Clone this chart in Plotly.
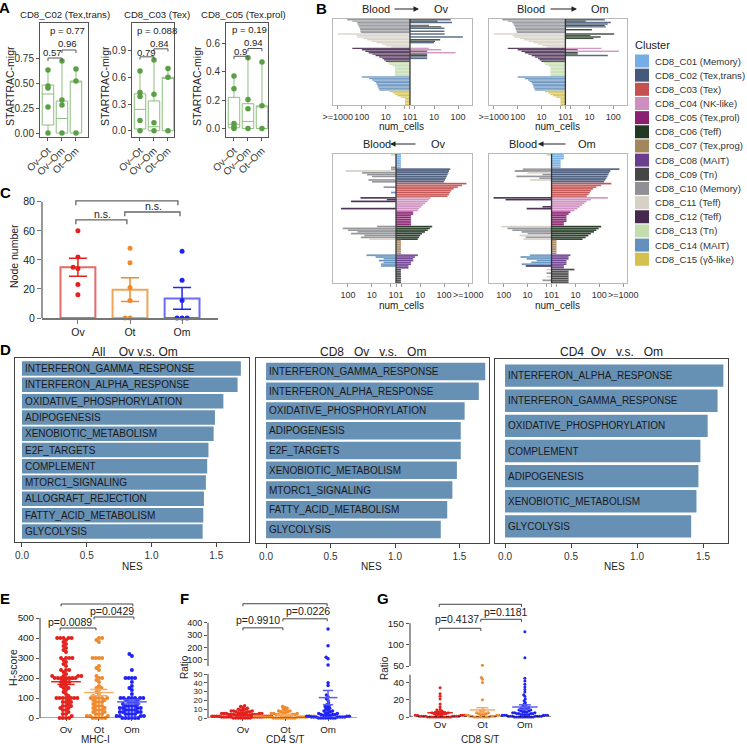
import numpy as np
import plotly.graph_objects as go

W, H = 747, 744
FONT = "Liberation Sans, Arial, Helvetica, sans-serif"

# ======================= DATA =======================
# ---- Panel A : STARTRAC-migr box plots ----
A_titles = ["CD8_C02 (Tex,trans)", "CD8_C03 (Tex)", "CD8_C05 (Tex.prol)"]
A_cats = ["Ov–Ot", "Ov–Om", "Ot–Om"]
A_points = [
    [[0.63, 0.47, 0.45, 0.26, 0.0], [0.72, 0.33, 0.28, 0.0], [0.64, 0.52, 0.0]],
    [[0.67, 0.43, 0.385, 0.115, 0.0], [0.795, 0.41, 0.09, 0.0], [0.70, 0.60, 0.0]],
    [[0.37, 0.28, 0.035, 0.015, 0.0], [0.50, 0.205, 0.14, 0.0], [0.47, 0.16, 0.0]],
]
A_q1 = [[0.08, 0.0, 0.0], [0.02, 0.0, 0.0], [0.005, 0.0, 0.0]]
A_med = [[0.39, 0.145, 0.52], [0.24, 0.045, 0.60], [0.03, 0.05, 0.16]]
A_q3 = [[0.48, 0.32, 0.52], [0.415, 0.335, 0.60], [0.22, 0.175, 0.16]]
A_lo = [[0.0, 0.0, 0.0], [0.0, 0.0, 0.0], [0.0, 0.0, 0.0]]
A_hi = [[0.63, 0.72, 0.64], [0.67, 0.795, 0.70], [0.37, 0.50, 0.47]]
A_yticks = [[0, 0.25, 0.5, 0.75], [0, 0.3, 0.6, 0.9], [0, 0.2, 0.4, 0.6]]
A_yticktext = [["0.00", "0.25", "0.50", "0.75"], ["0.0", "0.3", "0.6", "0.9"], ["0.0", "0.2", "0.4", "0.6"]]
A_pair_labels = [["0.57", "0.96"], ["0.79", "0.84"], ["0.9", "0.94"]]
A_p_overall = ["p = 0.77", "p = 0.088", "p = 0.19"]

# ---- Panel B : clone sharing (counts) ----
CLUSTERS = ["C01", "C02", "C03", "C04", "C05", "C06", "C07", "C08",
            "C09", "C10", "C11", "C12", "C13", "C14", "C15"]
CLUSTER_NAMES = ["CD8_C01 (Memory)", "CD8_C02 (Tex,trans)", "CD8_C03 (Tex)",
                 "CD8_C04 (NK-like)", "CD8_C05 (Tex,prol)", "CD8_C06 (Teff)",
                 "CD8_C07 (Tex,prog)", "CD8_C08 (MAIT)", "CD8_C09 (Tn)",
                 "CD8_C10 (Memory)", "CD8_C11 (Teff)", "CD8_C12 (Teff)",
                 "CD8_C13 (Tn)", "CD8_C14 (MAIT)", "CD8_C15 (γδ-like)"]
CLUSTER_COLORS = ["#74aee4", "#47597a", "#c4514f", "#cf8ec0", "#8b1f72",
                  "#233823", "#a4865c", "#6b3d8e", "#464646", "#8e9096",
                  "#d7d1c5", "#46294f", "#c4dcae", "#6391bd", "#d5c04e"]

# top-left: Blood -> Ov (rows grouped by blood cluster)
B_TL_groups = ["C10", "C11", "C12", "C13", "C14", "C15"]
B_TL_blood_n = [
    [410, 250, 160, 150, 140, 130, 123, 118, 115, 110],
    [1000, 170, 150, 90, 60, 40, 25, 15, 10, 6],
    [250, 100, 72, 52, 37, 27, 19, 14, 12, 10],
    [8, 7, 5, 4, 4, 4, 4, 4, 4, 4],
    [100, 50, 37, 31, 26, 24, 22, 22, 20, 19],
    [7, 5, 4, 3, 2, 1, 1, 1, 1, 1]]
B_TL_tum_cl = [
    ["C02", "C06", "C02", "", "C02", "C06", "C02", "", "C02", ""],
    ["C02", "", "C02", "", "C06", "C06", "C02", "", "", ""],
    ["C04", "C04", "C09", "C04", "C06", "C06", "C02", "C02", "", ""],
    ["", "", "", "", "", "", "", "", "", ""],
    ["", "", "", "", "", "", "", "", "", ""],
    ["", "", "", "", "", "", "", "", "", ""]]
B_TL_tum_n = [
    [50, 14, 56, 0, 6, 20, 27, 0, 27, 0],
    [28, 0, 160, 0, 18, 11, 10, 0, 0, 0],
    [6, 20, 5, 80, 5, 5, 5, 5, 0, 0],
    [0, 0, 0, 0, 0, 0, 0, 0, 0, 0],
    [0, 0, 0, 0, 0, 0, 0, 0, 0, 0],
    [0, 0, 0, 0, 0, 0, 0, 0, 0, 0]]

# top-right: Blood -> Om
B_TR_groups = ["C10", "C11", "C12", "C13", "C14", "C15"]
B_TR_blood_n = [
    [440, 260, 170, 150, 140, 130, 125, 118, 112, 108],
    [1000, 160, 140, 80, 55, 35, 22, 14, 9, 6],
    [260, 100, 70, 50, 36, 26, 19, 14, 12, 10],
    [8, 7, 5, 4, 4, 4, 4, 4, 4, 4],
    [100, 50, 37, 31, 26, 24, 22, 22, 20, 19],
    [7, 5, 4, 3, 2, 1, 1, 1, 1, 1]]
B_TR_tum_cl = [
    ["C02", "C06", "C02", "C02", "C06", "C02", "", "C06", "", ""],
    ["C06", "C06", "C06", "C06", "", "", "", "", "", ""],
    ["C04", "C09", "C04", "C06", "C06", "C02", "", "", "", ""],
    ["", "", "", "", "", "", "", "", "", ""],
    ["", "", "", "", "", "", "", "", "", ""],
    ["", "", "", "", "", "", "", "", "", ""]]
B_TR_tum_n = [
    [45, 7, 80, 60, 45, 50, 0, 13, 0, 0],
    [110, 11, 30, 15, 0, 0, 0, 0, 0, 0],
    [32, 3, 175, 3, 3, 60, 0, 0, 0, 0],
    [0, 0, 0, 0, 0, 0, 0, 0, 0, 0],
    [0, 0, 0, 0, 0, 0, 0, 0, 0, 0],
    [0, 0, 0, 0, 0, 0, 0, 0, 0, 0]]

# bottom-left: Blood <- Ov (rows grouped by tumour cluster)
B_BL_groups = ["C01", "C02", "C03", "C04", "C05", "C06", "C07", "C08", "C09"]
B_BL_tum_n = [
    [1, 1, 1, 1, 1, 1, 1, 1],
    [180, 160, 150, 140, 130, 120, 110, 100],
    [850, 560, 370, 250, 200, 175, 160, 140],
    [28, 24, 20, 16, 13, 11, 9, 8],
    [5, 5, 4, 4, 4, 4, 4, 4],
    [32, 26, 21, 16, 12, 10, 9, 8],
    [1, 1, 1, 1, 1, 1, 1, 1],
    [8, 6, 5, 5, 4, 4, 3, 3],
    [1, 1, 1, 1, 1, 1, 1, 1]]
B_BL_blood_cl = [
    ["C13", "", "", "", "", "", "", "C10"],
    ["C10", "C11", "C10", "C10", "C10", "", "C10", "C10"],
    ["", "", "C10", "", "", "C14", "", ""],
    ["C12", "C12", "C12", "", "", "", "C12", ""],
    ["", "", "", "", "", "", "", ""],
    ["C10", "C10", "C10", "C10", "C10", "C10", "C10", "C11"],
    ["", "", "", "", "", "", "", ""],
    ["C14", "C14", "C14", "C14", "C14", "C14", "C14", ""],
    ["", "", "", "", "", "", "", ""]]
B_BL_blood_n = [
    [1, 0, 0, 0, 0, 0, 0, 1],
    [1, 125, 26, 16, 10, 0, 14, 10],
    [0, 0, 3, 0, 0, 1, 0, 0],
    [30, 2, 75, 0, 0, 0, 195, 0],
    [0, 0, 0, 0, 0, 0, 0, 0],
    [6, 165, 100, 40, 75, 21, 29, 13],
    [0, 0, 0, 0, 0, 0, 0, 0],
    [17, 7, 3, 5, 3, 4, 4, 0],
    [0, 0, 0, 0, 0, 0, 0, 0]]

# bottom-right: Blood <- Om
B_BR_groups = ["C01", "C02", "C03", "C04", "C05", "C06", "C07", "C08", "C09"]
B_BR_tum_n = [
    [3, 3, 3, 2, 2, 2, 2, 2],
    [700, 290, 260, 240, 220, 200, 180, 160],
    [320, 120, 75, 55, 45, 40, 36, 30],
    [230, 45, 30, 24, 19, 15, 12, 9],
    [6, 5, 4, 4, 4, 4, 3, 3],
    [120, 95, 75, 60, 45, 35, 27, 20],
    [1, 1, 1, 1, 1, 1, 1, 1],
    [6, 5, 5, 4, 4, 4, 3, 3],
    [9, 5, 5, 5, 5, 5, 5, 5]]
B_BR_blood_cl = [
    ["C13", "", "", "", "", "", "", ""],
    ["C10", "C10", "C11", "C10", "C10", "C10", "C11", ""],
    ["", "", "", "", "", "", "", ""],
    ["C12", "C12", "", "", "", "C12", "C12", ""],
    ["", "", "", "", "", "", "", ""],
    ["C11", "C10", "C10", "C10", "C10", "C11", "C10", "C11"],
    ["", "", "", "", "", "", "", ""],
    ["C14", "C14", "C14", "C14", "C14", "C14", "C12", ""],
    ["C11", "", "C10", "", "C11", "", "C10", ""]]
B_BR_blood_n = [
    [1, 0, 0, 0, 0, 0, 0, 0],
    [16, 35, 10, 2, 30, 3, 8, 0],
    [0, 0, 0, 0, 0, 0, 0, 0],
    [270, 85, 0, 0, 0, 2, 11, 0],
    [0, 0, 0, 0, 0, 0, 0, 0],
    [125, 70, 44, 18, 10, 22, 12, 15],
    [0, 0, 0, 0, 0, 0, 0, 0],
    [8, 20, 11, 4, 7, 18, 12, 0],
    [1, 0, 1, 0, 1, 0, 2, 0]]

# tick positions (counts) and labels; the three central ticks (1 | 0 | 1) share one label "101"
B_top_tick_counts = [1000, 100, 10, 1, 0, 1, 10, 100]
B_top_tick_side = [-1, -1, -1, -1, 0, 1, 1, 1]
B_top_tick_text = [">=1000", "100", "10", "", "101", "", "10", "100"]
B_bot_tick_counts = [100, 10, 1, 0, 1, 10, 100, 1000]
B_bot_tick_side = [-1, -1, -1, 0, 1, 1, 1, 1]
B_bot_tick_text = ["100", "10", "", "101", "", "10", "100", ">=1000"]

# ---- Panel C : node number ----
C_groups = ["Ov", "Ot", "Om"]
C_points = [[60, 42, 35, 34, 23, 16], [48, 38, 21, 12, 0, 0], [46, 26, 12, 0, 0, 0]]
C_mean = [35, 19.5, 13.5]
C_sem = [6.2, 8.2, 7.5]

# ---- Panel D : GSEA NES ----
D_titles = ["All\u00a0\u00a0\u00a0\u00a0Ov v.s. Om",
            "CD8\u00a0\u00a0\u00a0Ov\u00a0\u00a0\u00a0v.s.\u00a0\u00a0\u00a0Om",
            "CD4\u00a0\u00a0Ov\u00a0\u00a0\u00a0v.s.\u00a0\u00a0\u00a0Om"]
D1_terms = ["INTERFERON_GAMMA_RESPONSE", "INTERFERON_ALPHA_RESPONSE", "OXIDATIVE_PHOSPHORYLATION",
            "ADIPOGENESIS", "XENOBIOTIC_METABOLISM", "E2F_TARGETS", "COMPLEMENT",
            "MTORC1_SIGNALING", "ALLOGRAFT_REJECTION", "FATTY_ACID_METABOLISM", "GLYCOLYSIS"]
D1_nes = [1.69, 1.665, 1.555, 1.49, 1.48, 1.44, 1.43, 1.42, 1.405, 1.40, 1.395]
D2_terms = ["INTERFERON_GAMMA_RESPONSE", "INTERFERON_ALPHA_RESPONSE", "OXIDATIVE_PHOSPHORYLATION",
            "ADIPOGENESIS", "E2F_TARGETS", "XENOBIOTIC_METABOLISM", "MTORC1_SIGNALING",
            "FATTY_ACID_METABOLISM", "GLYCOLYSIS"]
D2_nes = [1.70, 1.65, 1.54, 1.51, 1.51, 1.48, 1.445, 1.405, 1.355]
D3_terms = ["INTERFERON_ALPHA_RESPONSE", "INTERFERON_GAMMA_RESPONSE", "OXIDATIVE_PHOSPHORYLATION",
            "COMPLEMENT", "ADIPOGENESIS", "XENOBIOTIC_METABOLISM", "GLYCOLYSIS"]
D3_nes = [1.654, 1.61, 1.535, 1.48, 1.465, 1.45, 1.41]

# ---- Panel E : MHC-I H-score ----
EFG_groups = ["Ov", "Ot", "Om"]
E_Ov = [400, 400, 400, 400, 400, 390, 380, 370, 360, 350, 340, 330, 300, 300, 300, 300,
        290, 280, 270, 260, 240, 240, 240, 230, 220, 210, 210, 210, 210, 200, 200, 200,
        200, 200, 200, 200, 190, 180, 180, 180, 170, 160, 160, 150, 150, 140, 130, 120,
        110, 100, 100, 100, 100, 100, 100, 100, 90, 80, 80, 80, 70, 60, 60, 60, 50, 50,
        40, 40, 30, 20, 20, 10, 0, 0, 0, 0]
E_Ot = [400, 400, 390, 380, 300, 300, 300, 300, 260, 250, 240, 210, 200, 200, 190, 180,
        160, 150, 150, 140, 130, 120, 110, 100, 100, 100, 100, 100, 90, 90, 80, 80, 80,
        70, 60, 60, 60, 50, 50, 40, 40, 40, 30, 30, 20, 20, 20, 10, 10, 10, 0, 0, 0, 0, 0]
E_Om = [320, 310, 240, 200, 200, 200, 200, 180, 160, 150, 140, 120, 100, 100, 100, 100,
        100, 100, 100, 90, 90, 80, 80, 80, 70, 70, 60, 60, 60, 60, 50, 50, 50, 50, 40, 40,
        40, 40, 30, 30, 30, 30, 20, 20, 20, 20, 10, 10, 10, 10, 0, 0, 0, 0, 0, 0]

# ---- Panel F : CD4 S/T ratio ----
F_Ov = [14, 13, 12, 11, 10, 10, 9, 9, 8, 8, 8, 7, 7, 7, 6, 6, 6, 6, 5, 5, 5, 5, 5, 4, 4, 4,
        4, 4, 4, 3, 3, 3, 3, 3, 3, 3, 2, 2, 2, 2, 2, 2, 2, 2, 1, 1, 1, 1, 1, 1, 1, 1, 1, 1,
        0, 0, 0, 0, 0, 0, 0, 0]
F_Ot = [13, 12, 11, 10, 9, 8, 8, 7, 7, 6, 6, 5, 5, 5, 4, 4, 4, 4, 3, 3, 3, 3, 3, 2, 2, 2,
        2, 2, 2, 2, 1, 1, 1, 1, 1, 1, 1, 1, 1, 0, 0, 0, 0, 0, 0, 0, 0, 0, 0]
F_Om = [349, 213, 121, 109, 58, 40, 37, 26, 24, 22, 20, 17, 15, 14, 13, 12, 11, 10, 9, 8,
        8, 7, 6, 6, 5, 5, 4, 4, 4, 3, 3, 3, 3, 2, 2, 2, 2, 1, 1, 1, 1, 1, 1, 1, 0, 0, 0, 0,
        0, 0, 0, 0]

# ---- Panel G : CD8 S/T ratio ----
G_Ov = [34, 27, 24, 21, 15, 12, 9, 8, 7, 6, 6, 5, 5, 4, 4, 4, 3, 3, 3, 3, 2, 2, 2, 2, 2,
        1, 1, 1, 1, 1, 1, 1, 1, 0, 0, 0, 0, 0, 0, 0, 0, 0, 0, 0, 0]
G_Ot = [52, 46, 44, 40, 20, 8, 7, 6, 5, 5, 4, 4, 3, 3, 3, 2, 2, 2, 2, 1, 1, 1, 1, 1, 0, 0,
        0, 0, 0, 0, 0, 0]
G_Om = [130, 69, 45, 42, 38, 35, 32, 29, 26, 24, 21, 19, 17, 15, 14, 13, 12, 11, 10, 10,
        9, 9, 8, 8, 7, 7, 6, 6, 6, 5, 5, 5, 4, 4, 4, 4, 3, 3, 3, 3, 3, 2, 2, 2, 2, 2, 2, 1,
        1, 1, 1, 1, 1, 1, 0, 0, 0, 0, 0, 0, 0, 0, 0, 0]

# ======================= STYLE / HELPERS =======================
COL_CL = dict(zip(CLUSTERS, CLUSTER_COLORS))
A_BOX = "#8cc07e"
A_PT = "#5a9e45"
DOT_COLS = ["#e3211c", "#ee8a2c", "#1f24f5"]
MEAN_COLS = ["#e3211c", "#f2ad6a", "#5a5cf2"]
C_LINE = ["#e8696a", "#f0a458", "#6b6cf6"]
D_COL = "#6790b5"
AX = "#555555"


def xr(n):
    return "x" if n == 1 else f"x{n}"


def yr(n):
    return "y" if n == 1 else f"y{n}"


layout = dict(width=W, height=H, autosize=False, margin=dict(l=0, r=0, t=0, b=0, pad=0),
              paper_bgcolor="white", plot_bgcolor="white", showlegend=False,
              barmode="overlay", font=dict(family=FONT, size=10, color="#222"))


def set_axes(n, xpx, ypx, xo, yo):
    xa = dict(domain=[xpx[0] / W, xpx[1] / W], anchor=yr(n), showgrid=False, zeroline=False,
              automargin=False)
    ya = dict(domain=[1 - ypx[1] / H, 1 - ypx[0] / H], anchor=xr(n), showgrid=False,
              zeroline=False, automargin=False)
    xa.update(xo)
    ya.update(yo)
    layout["xaxis" if n == 1 else f"xaxis{n}"] = xa
    layout["yaxis" if n == 1 else f"yaxis{n}"] = ya


shapes, anns = [], []


def text_px(t, x, y, size=10, xanchor="center", yanchor="middle", color="#222", angle=0):
    anns.append(dict(text=t, x=x / W, y=1 - y / H, xref="paper", yref="paper", showarrow=False,
                     xanchor=xanchor, yanchor=yanchor, textangle=angle,
                     font=dict(size=size, color=color)))


def text_data(t, x, y, n, size=10, color="#222", xanchor="center"):
    anns.append(dict(text=t, x=x, y=y, xref=xr(n), yref=yr(n), showarrow=False,
                     xanchor=xanchor, yanchor="middle", font=dict(size=size, color=color)))


def bracket(x0, x1, y, tick, n, color="#444", width=1):
    shapes.append(dict(type="path",
                       path=f"M {x0},{y - tick} L {x0},{y} L {x1},{y} L {x1},{y - tick}",
                       xref=xr(n), yref=yr(n), line=dict(color=color, width=width)))


def vline_dom(n, y0, y1, color=AX, width=1.2):
    shapes.append(dict(type="line", xref=f"{xr(n)} domain", yref=yr(n), x0=0, x1=0,
                       y0=y0, y1=y1, line=dict(color=color, width=width)))


def hline_dom(n, x0f, x1f, y, color=AX, width=1.2, dash=None):
    ln = dict(color=color, width=width)
    if dash:
        ln["dash"] = dash
    shapes.append(dict(type="line", xref=f"{xr(n)} domain", yref=yr(n), x0=x0f, x1=x1f,
                       y0=y, y1=y, line=ln))


def swarm_offsets(ypix, d):
    ypix = np.asarray(ypix, float)
    order = np.argsort(ypix, kind="stable")
    px_l, py_l = [], []
    offs = np.zeros(len(ypix))
    for i in order:
        y = ypix[i]
        cands = [0.0]
        for a, b in zip(px_l, py_l):
            dyy = abs(b - y)
            if dyy < d:
                h = np.sqrt(d * d - dyy * dyy)
                cands.extend([a + h, a - h])
        cands.sort(key=lambda c: (round(abs(c), 6), c))
        for c in cands:
            if all((c - a) ** 2 + (y - b) ** 2 >= d * d - 1e-6 for a, b in zip(px_l, py_l)):
                offs[i] = c
                break
        px_l.append(offs[i])
        py_l.append(y)
    return offs


fig = go.Figure()

# ======================= PANEL A =======================
A_xdom = [(40, 88), (132, 174), (226, 268)]
A_xrange = [[-0.57, 2.86], [-0.57, 2.43], [-0.57, 2.43]]
A_yrange = [[-0.04, 1.10], [-0.07, 1.21], [-0.06, 0.745]]
A_br_y = [[0.75, 0.83], [0.83, 0.92], [0.51, 0.565]]
A_lab_pos = [[(0.29, 0.80), (1.43, 0.895)], [(0.5, 0.88), (1.36, 0.985)], [(0.43, 0.545), (1.39, 0.605)]]
A_p_pos = [(1.36, 1.025), (1.21, 1.13), (1.14, 0.698)]
A_title_x = [65, 157, 243]
A_ytitle_x = [10, 105, 197]
A_tick = [0.03, 0.03, 0.02]
for k in range(3):
    n = k + 1
    set_axes(n, A_xdom[k], (23, 137),
             dict(range=A_xrange[k], tickvals=[0, 1, 2], ticktext=A_cats, tickangle=-45,
                  ticks="outside", ticklen=3, tickcolor=AX, showline=True, mirror=True,
                  linecolor=AX, linewidth=1, tickfont=dict(size=10, color="#333")),
             dict(range=A_yrange[k], tickvals=A_yticks[k], ticktext=A_yticktext[k],
                  ticks="outside", ticklen=3, tickcolor=AX, showline=True, mirror=True,
                  linecolor=AX, linewidth=1, tickfont=dict(size=10, color="#333")))
    fig.add_trace(go.Box(x=[0, 1, 2], q1=A_q1[k], median=A_med[k], q3=A_q3[k],
                         lowerfence=A_lo[k], upperfence=A_hi[k], width=0.82, whiskerwidth=0,
                         line=dict(color=A_BOX, width=1), fillcolor="rgba(0,0,0,0)",
                         boxpoints=False, xaxis=xr(n), yaxis=yr(n), hoverinfo="skip"))
    xs, ys = [], []
    for ci, pts in enumerate(A_points[k]):
        xs += [ci] * len(pts)
        ys += pts
    fig.add_trace(go.Scatter(x=xs, y=ys, mode="markers", cliponaxis=False,
                             marker=dict(color=A_PT, size=5.5), xaxis=xr(n), yaxis=yr(n),
                             hoverinfo="skip"))
    bracket(0, 1, A_br_y[k][0], A_tick[k], n, color="#555")
    bracket(1, 2, A_br_y[k][1], A_tick[k], n, color="#555")
    for (lx, ly), lab in zip(A_lab_pos[k], A_pair_labels[k]):
        text_data(lab, lx, ly, n, size=9.6)
    text_data(A_p_overall[k], A_p_pos[k][0], A_p_pos[k][1], n, size=9.6)
    text_px(A_titles[k], A_title_x[k], 15, size=9.6)
    text_px("STARTRAC-migr", A_ytitle_x[k], 86, size=10.5, angle=-90)


# ======================= PANEL B =======================
def pl(c):
    return np.arcsinh(np.asarray(c, float) / 2.0) / np.log(10)


def flat_top(groups, blood_n, tum_cl, tum_n):
    bc, bn, tc, tn = [], [], [], []
    for g, ns, cls, tns in zip(groups, blood_n, tum_cl, tum_n):
        for a, b, c in zip(ns, cls, tns):
            bc.append(g); bn.append(a); tc.append(b); tn.append(c)
    return bc, bn, tc, tn


def flat_bot(groups, tum_n, blood_cl, blood_n):
    bc, bn, tc, tn = [], [], [], []
    for g, tns, cls, bns in zip(groups, tum_n, blood_cl, blood_n):
        for a, b, c in zip(tns, cls, bns):
            tc.append(g); tn.append(a); bc.append(b); bn.append(c)
    return bc, bn, tc, tn


B_panels = [
    (4, (333, 472), (19, 105), flat_top(B_TL_groups, B_TL_blood_n, B_TL_tum_cl, B_TL_tum_n), "top"),
    (5, (489, 627), (19, 105), flat_top(B_TR_groups, B_TR_blood_n, B_TR_tum_cl, B_TR_tum_n), "top"),
    (6, (333, 472), (154, 283), flat_bot(B_BL_groups, B_BL_tum_n, B_BL_blood_cl, B_BL_blood_n), "bot"),
    (7, (489, 627), (154, 283), flat_bot(B_BR_groups, B_BR_tum_n, B_BR_blood_cl, B_BR_blood_n), "bot"),
]
for n, xd, yd, (bc, bn, tc, tn), kind in B_panels:
    rows = len(bn)
    if kind == "top":
        tv = [s * pl(c) for s, c in zip(B_top_tick_side, B_top_tick_counts)]
        tt = B_top_tick_text
        xrg = [-3.2, 2.58]
    else:
        tv = [s * pl(c) for s, c in zip(B_bot_tick_side, B_bot_tick_counts)]
        tt = B_bot_tick_text
        xrg = [-2.62, 3.16]
    set_axes(n, xd, yd,
             dict(range=xrg, tickvals=tv, ticktext=tt, tickangle=0, ticks="outside", ticklen=3,
                  tickcolor="#999", showline=True, mirror=True, linecolor="#b8b8b8",
                  linewidth=1, tickfont=dict(size=9, color="#333")),
             dict(range=[-(rows - 0.5), 0.5], showticklabels=False, ticks="",
                  showline=True, mirror=True, linecolor="#b8b8b8", linewidth=1))
    yy = -np.arange(rows)
    colL = [COL_CL.get(c, "rgba(0,0,0,0)") for c in bc]
    colR = [COL_CL.get(c, "rgba(0,0,0,0)") for c in tc]
    fig.add_trace(go.Bar(x=-pl(bn), y=yy, orientation="h", width=1,
                         marker=dict(color=colL, line=dict(color="rgba(255,255,255,0.55)", width=0.35)),
                         xaxis=xr(n), yaxis=yr(n), hoverinfo="skip"))
    fig.add_trace(go.Bar(x=pl(tn), y=yy, orientation="h", width=1,
                         marker=dict(color=colR, line=dict(color="rgba(255,255,255,0.55)", width=0.35)),
                         xaxis=xr(n), yaxis=yr(n), hoverinfo="skip"))
    shapes.append(dict(type="line", xref=xr(n), yref=f"{yr(n)} domain", x0=0, x1=0, y0=0, y1=1,
                       line=dict(color="#333", width=1.3), layer="above"))
    text_px("num_cells", (xd[0] + xd[1]) / 2 - 1, yd[1] + 22, size=10)

# headers with arrows
B_heads = [(376, 393, 419, 441, "Ov", 9, "right"), (531, 549, 577, 600, "Om", 9, "right"),
           (377, 390, 417, 438, "Ov", 144, "left"), (523, 538, 567, 587, "Om", 144, "left")]
for bx, a0, a1, tx, lab, yy_, dirn in B_heads:
    text_px("Blood", bx, yy_, size=11)
    text_px(lab, tx, yy_, size=11)
    if dirn == "right":
        hx, tl = a1, a0
    else:
        hx, tl = a0, a1
    anns.append(dict(text="", x=hx / W, y=1 - yy_ / H, xref="paper", yref="paper",
                     showarrow=True, ax=tl - hx, ay=0, axref="pixel", ayref="pixel",
                     arrowhead=2, arrowsize=1, arrowwidth=1.1, arrowcolor="#222"))

# legend
text_px("Cluster", 633, 45, size=11, xanchor="left")
for i, (nm, cc) in enumerate(zip(CLUSTER_NAMES, CLUSTER_COLORS)):
    yc = 61 + 14.16 * i
    shapes.append(dict(type="rect", xref="paper", yref="paper", x0=635 / W, x1=649 / W,
                       y0=1 - (yc + 6.5) / H, y1=1 - (yc - 6.5) / H,
                       fillcolor=cc, line=dict(width=0)))
    text_px(nm, 653, yc, size=9.6, xanchor="left", color="#333")

# ======================= PANEL C =======================
set_axes(8, (42, 218), (196, 318),
         dict(range=[-0.69, 2.69], tickvals=[0, 1, 2], ticktext=C_groups, ticks="outside",
              ticklen=4, tickcolor="#777", showline=True, linecolor="#777", linewidth=1.5,
              tickfont=dict(size=10.5, color="#222")),
         dict(range=[0, 84], tickvals=[0, 20, 40, 60, 80], ticks="outside", ticklen=4,
              tickcolor="#777", showline=False, tickfont=dict(size=10.5, color="#222")))
vline_dom(8, 0, 80, color="#777", width=1.5)
for i in range(3):
    fig.add_trace(go.Bar(x=[i], y=[C_mean[i]], width=0.67,
                         marker=dict(color="white", line=dict(color=C_LINE[i], width=2)),
                         error_y=dict(type="data", array=[C_sem[i]], color=DOT_COLS[i],
                                      thickness=1.5, width=9),
                         xaxis="x8", yaxis="y8", hoverinfo="skip"))
    offs = swarm_offsets(np.array(C_points[i]) * 1.45, 5.0) / 52.0
    fig.add_trace(go.Scatter(x=i + offs, y=C_points[i], mode="markers", cliponaxis=False,
                             marker=dict(color=DOT_COLS[i], size=5), xaxis="x8", yaxis="y8",
                             hoverinfo="skip"))
bracket(-0.04, 0.94, 67.6, 3, 8, color="#666", width=1.3)
bracket(0.90, 1.96, 73.0, 3, 8, color="#666", width=1.3)
bracket(-0.04, 1.92, 80.7, 3, 8, color="#666", width=1.3)
text_data("n.s.", 0.48, 71.8, 8, size=10.5)
text_data("n.s.", 1.46, 77.2, 8, size=10.5)
text_data("n.s.", 0.94, 84.6, 8, size=10.5)
text_px("Node number", 14, 256, size=10.5, angle=-90)

# ======================= PANEL D =======================
D_sets = [(9, (15, 249), (358, 542), D1_terms, D1_nes, [-0.054, 1.753], 0.15, 132),
          (10, (256, 489), (358, 543), D2_terms, D2_nes, [-0.078, 1.729], 0.18, 371),
          (11, (495, 728), (359, 543), D3_terms, D3_nes, [-0.076, 1.689], 0.16, 614)]
for k, (n, xd, yd, terms, nes, xrg, pad, cx) in enumerate(D_sets):
    m = len(terms)
    set_axes(n, xd, yd,
             dict(range=xrg, tickvals=[0, 0.5, 1.0, 1.5], ticktext=["0.0", "0.5", "1.0", "1.5"],
                  ticks="outside", ticklen=4, tickcolor="#444", showline=True, mirror=True,
                  linecolor="#444", linewidth=1.2, tickfont=dict(size=10, color="#333")),
             dict(range=[m - 0.5 + pad, -0.5 - pad], showticklabels=False, ticks="",
                  showline=True, mirror=True, linecolor="#444", linewidth=1.2))
    fig.add_trace(go.Bar(x=nes, y=list(range(m)), orientation="h", width=0.89,
                         marker=dict(color=D_COL, line=dict(width=0)),
                         xaxis=xr(n), yaxis=yr(n), hoverinfo="skip"))
    for i, t in enumerate(terms):
        anns.append(dict(text=t, x=0, y=i, xref=xr(n), yref=yr(n), showarrow=False,
                         xanchor="left", yanchor="middle", xshift=1,
                         font=dict(size=10, color="#1a1a1a")))
    text_px(D_titles[k], (xd[0] + xd[1]) / 2 + (3 if k == 0 else 0), 352, size=12)
    text_px("NES", cx, 566, size=10)

# ======================= PANELS E, F, G =======================


def dot_groups(groups_vals, ymap, split, d, size, ppx_x, n_lo, n_hi,
               mean_hw, cap_hw, lw=1.5):
    for gi, vals in enumerate(groups_vals):
        vals = np.asarray(vals, float)
        offs = swarm_offsets([ymap(v) for v in vals], d) / ppx_x
        lo = vals <= split
        fig.add_trace(go.Scatter(x=gi + offs[lo], y=vals[lo], mode="markers", cliponaxis=False,
                                 marker=dict(color=DOT_COLS[gi], size=size),
                                 xaxis=xr(n_lo), yaxis=yr(n_lo), hoverinfo="skip"))
        if n_hi is not None and (~lo).any():
            fig.add_trace(go.Scatter(x=gi + offs[~lo], y=vals[~lo], mode="markers",
                                     cliponaxis=False,
                                     marker=dict(color=DOT_COLS[gi], size=size),
                                     xaxis=xr(n_hi), yaxis=yr(n_hi), hoverinfo="skip"))
        mu = float(np.mean(vals))
        se = float(np.std(vals, ddof=1) / np.sqrt(len(vals)))
        xs = [gi - mean_hw, gi + mean_hw, None, gi, gi, None,
              gi - cap_hw, gi + cap_hw, None, gi - cap_hw, gi + cap_hw]
        ys = [mu, mu, None, mu - se, mu + se, None, mu - se, mu - se, None, mu + se, mu + se]
        fig.add_trace(go.Scatter(x=xs, y=ys, mode="lines", cliponaxis=False,
                                 line=dict(color=MEAN_COLS[gi], width=lw),
                                 xaxis=xr(n_lo), yaxis=yr(n_lo), hoverinfo="skip"))


TICKF = dict(size=9.8, color="#222")
TICKF_SMALL = dict(size=8, color="#222")
# ---- E ----
set_axes(12, (40, 150), (598, 718),
         dict(range=[-0.79, 2.55], tickvals=[0, 1, 2], ticktext=EFG_groups, ticks="outside",
              ticklen=2, tickcolor=AX, showline=False, tickfont=TICKF),
         dict(range=[0, 600], tickvals=[0, 100, 200, 300, 400, 500], ticks="outside",
              ticklen=3, tickcolor=AX, showline=False, tickfont=TICKF))
vline_dom(12, 0, 500)
hline_dom(12, 0, (138 - 40) / 110, 0)
dot_groups([E_Ov, E_Ot, E_Om], lambda v: v * 0.2, 1e9, 3.2, 4, 33.0, 12, None, 0.45, 0.26)
bracket(-0.18, 0.91, 450, 12, 12, color="#444")
bracket(0.85, 2.06, 505, 12, 12, color="#444")
bracket(-0.15, 2.03, 570, 12, 12, color="#444")
text_data("p=0.0089", 0.12, 482, 12, size=10.5)
text_data("p=0.0429", 1.39, 536, 12, size=10.5)
text_data("p &lt; 0.0001", 0.73, 616, 12, size=10.5)
text_px("H-score", 13, 668, size=10.5, angle=-90)
text_px("MHC-I", 96, 739, size=10)

# ---- F (broken axis) ----
set_axes(13, (208, 357), (674, 718),
         dict(range=[-0.82, 2.68], tickvals=[0, 1, 2], ticktext=EFG_groups, ticks="outside",
              ticklen=2, tickcolor=AX, showline=False, tickfont=TICKF),
         dict(range=[0, 50], tickvals=[0, 10, 20, 30, 40, 50], ticks="outside", ticklen=3,
              tickcolor=AX, showline=False, tickfont=TICKF_SMALL))
set_axes(14, (208, 357), (603, 666),
         dict(range=[-0.82, 2.68], visible=False),
         dict(range=[50, 560], tickvals=[100, 200, 300, 400], ticks="outside", ticklen=3,
              tickcolor=AX, showline=False, tickfont=dict(size=9, color="#222")))
vline_dom(13, 0, 50)
vline_dom(14, 50, 400)
hline_dom(13, 0, 1, 0)


def f_map(v):
    return v * 0.88 if v <= 50 else 44 + 8 + (v - 50) * 0.1229


dot_groups([F_Ov, F_Ot, F_Om], f_map, 50, 2.4, 3.5, 42.5, 13, 14, 0.22, 0.12)
bracket(0.0, 0.94, 359, 20, 14, color="#444")
bracket(0.94, 1.98, 432, 20, 14, color="#444")
bracket(0.0, 1.98, 554, 20, 14, color="#444")
text_data("p=0.9910", 0.35, 426, 14, size=10.5)
text_data("p=0.0226", 1.53, 492, 14, size=10.5)
text_data("p=0.0220", 0.94, 630, 14, size=10.5)
text_px("Ratio", 184, 667, size=10, angle=-90)
text_px("CD4 S/T", 285, 739, size=10)

# ---- G (broken axis) ----
set_axes(15, (410, 552), (674, 717),
         dict(range=[-0.71, 2.64], tickvals=[0, 1, 2], ticktext=EFG_groups, ticks="",
              showline=False, tickfont=TICKF),
         dict(range=[0, 50], tickvals=[0, 20, 40], ticks="outside", ticklen=3,
              tickcolor=AX, showline=False, tickfont=TICKF))
set_axes(16, (410, 552), (603, 666),
         dict(range=[-0.71, 2.64], visible=False),
         dict(range=[50, 197], tickvals=[50, 100, 150], ticks="outside", ticklen=3,
              tickcolor=AX, showline=False, tickfont=TICKF))
vline_dom(15, 0, 49)
vline_dom(16, 50, 150)
hline_dom(15, 0, 1, 0, color="#111", width=1.2, dash="dot")


def g_map(v):
    return v * 0.866 if v <= 50 else 43.3 + 8 + (v - 50) * 0.43


dot_groups([G_Ov, G_Ot, G_Om], g_map, 50, 2.1, 3.0, 42.5, 15, 16, 0.3, 0.14)
bracket(-0.02, 0.96, 138, 6, 16, color="#444")
bracket(0.96, 1.92, 159, 6, 16, color="#444")
bracket(-0.02, 1.92, 194, 6, 16, color="#444")
text_data("p=0.4137", 0.40, 160, 16, size=10.5)
text_data("p=0.1181", 1.55, 177, 16, size=10.5)
text_data("p=0.0001", 0.92, 216, 16, size=10.5)
text_px("Ratio", 384, 668, size=10, angle=-90)
text_px("CD8 S/T", 480, 739, size=10)

# ======================= PANEL LETTERS =======================
for L, x, y in [("A", 4, 8), ("B", 321, 9), ("C", 5, 192), ("D", 5, 349),
                ("E", 5, 598), ("F", 184, 598), ("G", 383, 598)]:
    text_px(f"<b>{L}</b>", x, y, size=15, color="#000")

layout["shapes"] = shapes
layout["annotations"] = anns
fig.update_layout(**layout)
fig.write_html("out.html", config={"responsive": False, "displayModeBar": False},
               post_script="document.body.style.margin='0';document.body.style.padding='0';")
